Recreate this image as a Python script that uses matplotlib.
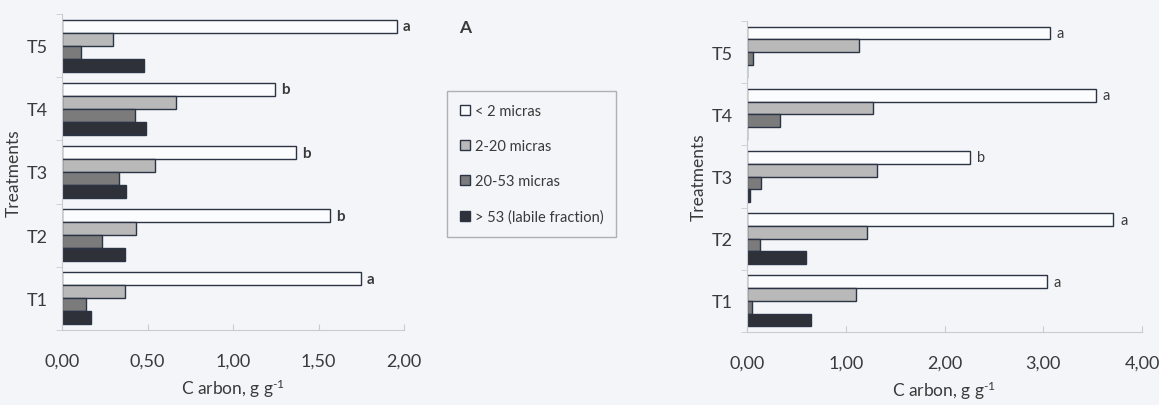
import numpy as np
import matplotlib.pyplot as plt

plt.rcParams['font.family'] = ['Lato', 'DejaVu Sans']
plt.rcParams['mathtext.fontset'] = 'custom'
plt.rcParams['mathtext.rm'] = 'Lato'
plt.rcParams['mathtext.it'] = 'Lato'

treatments = ['T1', 'T2', 'T3', 'T4', 'T5']
fractions = ['< 2 micras', '2-20 micras', '20-53 micras', '> 53 (labile fraction)']

# panel A (left)
a_lt2   = [1.75, 1.57, 1.37, 1.245, 1.96]
a_2_20  = [0.37, 0.434, 0.545, 0.665, 0.30]
a_20_53 = [0.14, 0.233, 0.333, 0.427, 0.11]
a_gt53  = [0.17, 0.368, 0.374, 0.49, 0.48]
a_letters = ['a', 'b', 'b', 'b', 'a']

# right panel
b_lt2   = [3.04, 3.71, 2.26, 3.53, 3.07]
b_2_20  = [1.10, 1.22, 1.316, 1.276, 1.13]
b_20_53 = [0.055, 0.128, 0.145, 0.33, 0.06]
b_gt53  = [0.65, 0.60, 0.035, 0.0, 0.0]
b_letters = ['a', 'a', 'b', 'a', 'a']

bg = '#f3f5f8'
colors = ['#fbfcfd', '#b9b9b9', '#7b7b7b', '#2f3139']
edge = '#2b3445'
txt = '#3a3a3a'
axc = '#c8ccd2'

fig = plt.figure(figsize=(11.59, 4.06), dpi=100, facecolor=bg)


def panel(ax, series, letters, xmax, xticks, bold):
    ax.set_facecolor(bg)
    y = np.arange(len(treatments))
    h = 0.205
    offs = [1.5 * h, 0.5 * h, -0.5 * h, -1.5 * h]
    for vals, off, c, lab in zip(series, offs, colors, fractions):
        ax.barh(y + off, vals, height=h, color=c, edgecolor=edge, lw=1.0, label=lab)
    for yi, v, l in zip(y, series[0], letters):
        ax.text(v + xmax * 0.017, yi + offs[0], l, va='center', ha='left',
                fontsize=11 if bold else 10.5, color=txt,
                fontweight='bold' if bold else 'normal')
    ax.set_xlim(0, xmax)
    ax.set_ylim(-0.5, len(treatments) - 0.5)
    ax.set_yticks(y)
    ax.set_yticklabels(treatments, fontsize=13, color=txt)
    ax.set_yticks(np.arange(-0.5, len(treatments)), minor=True)
    ax.tick_params(axis='y', which='major', length=0, pad=10)
    ax.tick_params(axis='y', which='minor', length=4, color=axc)
    ax.set_xticks(xticks)
    ax.set_xticklabels([f'{t:.2f}'.replace('.', ',') for t in xticks], fontsize=13, color=txt)
    ax.tick_params(axis='x', length=4, color=axc, pad=16, direction='in')
    for s in ['top', 'right']:
        ax.spines[s].set_visible(False)
    for s in ['left', 'bottom']:
        ax.spines[s].set_color(axc)
    ax.set_xlabel('C arbon, g g$^{\\text{-}1}$', fontsize=12.5, color=txt, labelpad=6)
    ax.set_ylabel('Treatments', fontsize=12.5, color=txt, labelpad=4)


axl = fig.add_axes([62 / 1159, 1 - 331 / 406, 342 / 1159, 316 / 406])
panel(axl, [a_lt2, a_2_20, a_20_53, a_gt53], a_letters, 2.0, [0, 0.5, 1.0, 1.5, 2.0], True)
axl.text(465 / 1159, 1 - 28 / 406, 'A', transform=fig.transFigure, fontsize=12.5,
         fontweight='bold', color=txt, ha='center', va='center')
leg = axl.legend(loc='upper left', bbox_to_anchor=(447 / 1159, 1 - 92 / 406),
                 bbox_transform=fig.transFigure, fontsize=10.5, frameon=True,
                 handlelength=0.7, handleheight=0.7, handletextpad=0.3,
                 labelspacing=1.45, borderpad=0.9, borderaxespad=0,
                 fancybox=False, labelcolor=txt)
leg.get_frame().set_edgecolor('#9aa0a8')
leg.get_frame().set_facecolor(bg)

axr = fig.add_axes([747 / 1159, 1 - 333 / 406, 395 / 1159, 311 / 406])
panel(axr, [b_lt2, b_2_20, b_20_53, b_gt53], b_letters, 4.0, [0, 1.0, 2.0, 3.0, 4.0], False)

fig.savefig('out.png', dpi=100, facecolor=bg)
